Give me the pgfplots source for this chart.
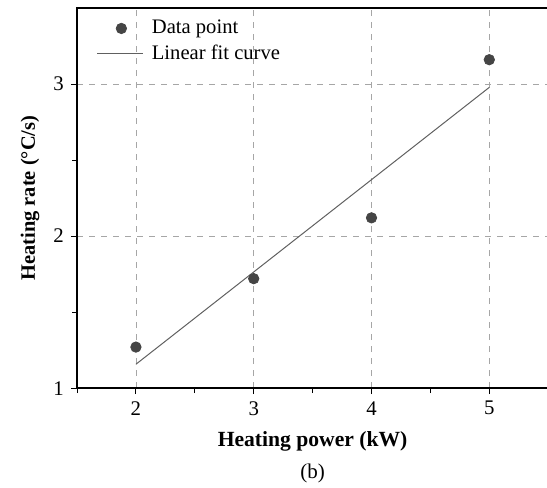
\documentclass[border=0pt]{standalone}
\usepackage{fontspec}
\setmainfont{Liberation Serif}
\usepackage{pgfplots}
\pgfplotsset{compat=1.18}
\definecolor{markgray}{HTML}{454545}
\definecolor{linegray}{HTML}{606060}
\pgfplotsset{
  markleg/.style={legend image code/.code={\draw[##1] plot coordinates {(12pt,0pt)};}},
  lineleg/.style={legend image code/.code={\draw[##1] (0pt,0pt) -- (23pt,0pt);}},
}
\begin{document}
\fontsize{10.2}{12}\selectfont
\begin{tikzpicture}
\begin{axis}[
  scale only axis,
  width=235.5pt, height=190pt,
  xmin=1.5, xmax=5.5, ymin=1, ymax=3.5,
  xtick={2,3,4,5}, ytick={1,2,3},
  minor xtick={1.5,2.5,3.5,4.5},
  minor ytick={1.5,2.5},
  tick align=outside,
  major tick length=3pt, minor tick length=2.5pt,
  tick style={black, line width=0.5pt},
  xtick pos=bottom, ytick pos=left,
  axis line style={line width=0.8pt},
  grid=major,
  major grid style={gray!70, dashed, line width=0.4pt},
  /pgf/number format/assume math mode=true,
  ticklabel style={font=\fontsize{10.4}{12}\selectfont},
  xlabel={\textbf{Heating power (kW)}},
  ylabel={\textbf{Heating rate (\textdegree C/s)}},
  xlabel style={font=\fontsize{10.8}{12}\selectfont, yshift=-1pt},
  ylabel style={font=\fontsize{10.2}{12}\selectfont},
  legend style={draw=none, fill=none, at={(rel axis cs:0.037,0.985)}, anchor=north west,
     font=\fontsize{10.3}{12}\selectfont, row sep=0pt, inner sep=1pt,
     nodes={inner xsep=4pt}},
  legend cell align=left,
  clip=false,
]
\addplot[only marks, mark=*, mark size=2.6pt, mark options={fill=markgray, draw=markgray}, markleg]
  coordinates {(2,1.27) (3,1.72) (4,2.12) (5,3.16)};
\addlegendentry{Data point}
\addplot[linegray, line width=0.5pt, no marks, lineleg]
  coordinates {(2,1.157) (5,2.978)};
\addlegendentry{Linear fit curve}
\coordinate (A) at (rel axis cs:0,0);
\coordinate (B) at (rel axis cs:1,1);
\node[anchor=base, font=\fontsize{10.5}{12}\selectfont] at ([yshift=-45pt]rel axis cs:0.5,0) {(b)};
\end{axis}
\pgfresetboundingbox
\path[use as bounding box] ([xshift=-38.5pt,yshift=-49.5pt]A) rectangle ([xshift=-0.6pt,yshift=4pt]B);
\end{tikzpicture}
\end{document}
